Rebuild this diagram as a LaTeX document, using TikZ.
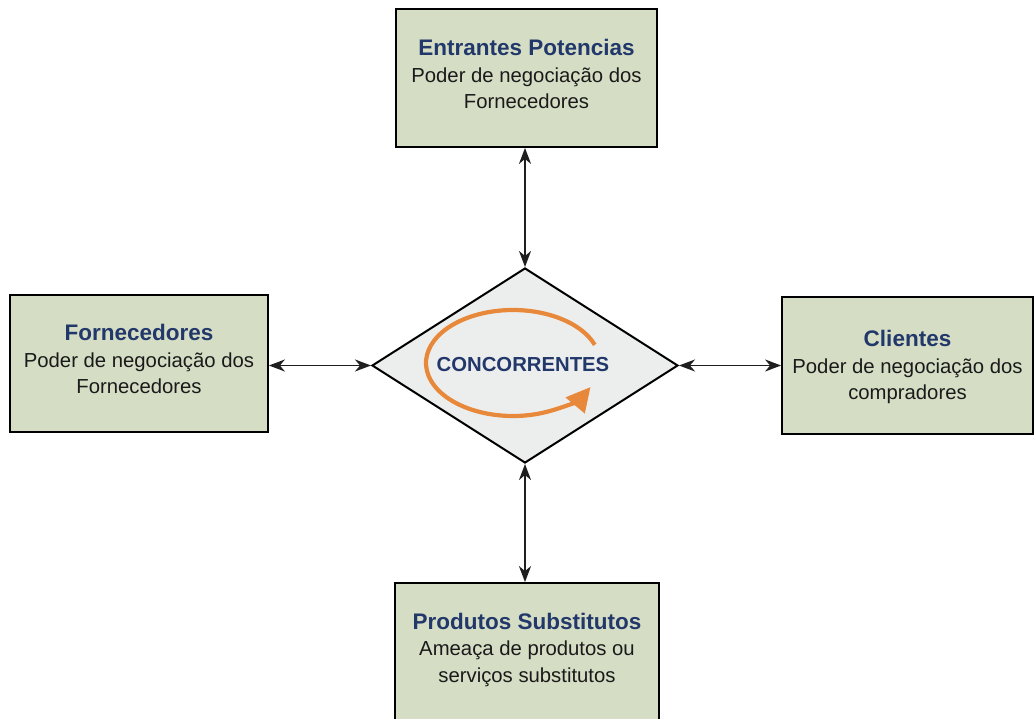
\documentclass[tikz,border=0pt]{standalone}
\usepackage{fontspec}
\setmainfont{Liberation Sans}
\usetikzlibrary{shapes.geometric,arrows.meta}
\definecolor{boxfill}{HTML}{D5DEC5}
\definecolor{diafill}{HTML}{ECEEEE}
\definecolor{titleblue}{HTML}{22386A}
\definecolor{bodytext}{HTML}{1A1A1A}
\definecolor{cycleorange}{HTML}{E8883A}
\tikzset{
  force/.style={draw=black, line width=1.8pt, fill=boxfill, inner sep=0pt},
  ftext/.style={align=center, inner sep=0pt, text=bodytext,
    font=\fontsize{20.3}{26.5}\selectfont},
  link/.style={draw=black!88, line width=1.8pt,
    {Stealth[length=16pt,width=12pt,inset=5pt]}-{Stealth[length=16pt,width=12pt,inset=5pt]}},
}
\newcommand{\fttl}[1]{{\color{titleblue}\fontsize{22.5}{26.5}\selectfont\bfseries #1}}
\begin{document}
\begin{tikzpicture}[x=1pt,y=-1pt]
  \useasboundingbox[fill=white] (0,0) rectangle (1036,719);
  \begin{scope}
  \clip (0,0) rectangle (1036,719);

  % the four outside forces
  \node[force, minimum width=261pt, minimum height=138pt] (top) at (526.5,78) {};
  \node[ftext] (toptext) at (526.5,74)
    {\fttl{Entrantes Potencias}\\Poder de negociação dos\\Fornecedores};
  \node[force, minimum width=258pt, minimum height=137pt] (left) at (139,363.5) {};
  \node[ftext] (lefttext) at (139,359)
    {\fttl{Fornecedores}\\Poder de negociação dos\\Fornecedores};
  \node[force, minimum width=251pt, minimum height=137pt] (right) at (907.5,365.5) {};
  \node[ftext] (righttext) at (907.5,367)
    {\fttl{Clientes}\\Poder de negociação dos\\compradores};
  \node[force, minimum width=264pt, minimum height=142pt] (bottom) at (527,654) {};
  \node[ftext] (bottomtext) at (527,649.5)
    {\fttl{Produtos Substitutos}\\Ameaça de produtos ou\\serviços substitutos};

  % rivalry diamond in the middle
  \node[diamond, draw=black, line width=2pt, fill=diafill, inner sep=0pt,
    minimum width=306pt, minimum height=195pt] (rivals) at (525,365.5) {};

  % circular arrow around the central label
  \draw[cycleorange, line width=4.2pt,
    -{Triangle[length=24pt,width=24pt]}]
    (513,363) ++(20:87pt and 53pt)
    arc[start angle=20, end angle=333, x radius=87pt, y radius=53pt];
  \node[text=titleblue, font=\fontsize{20.3}{24}\selectfont\bfseries] (rname) at (523,365) {CONCORRENTES};

  % connectors, kept straight by projecting onto the diamond's tips
  \draw[link] (top.south -| rivals.north) -- (rivals.north);
  \draw[link] (left.east |- rivals.west) -- (rivals.west);
  \draw[link] (right.west |- rivals.east) -- (rivals.east);
  \draw[link] (bottom.north -| rivals.south) -- (rivals.south);
  \end{scope}
\end{tikzpicture}
\end{document}
